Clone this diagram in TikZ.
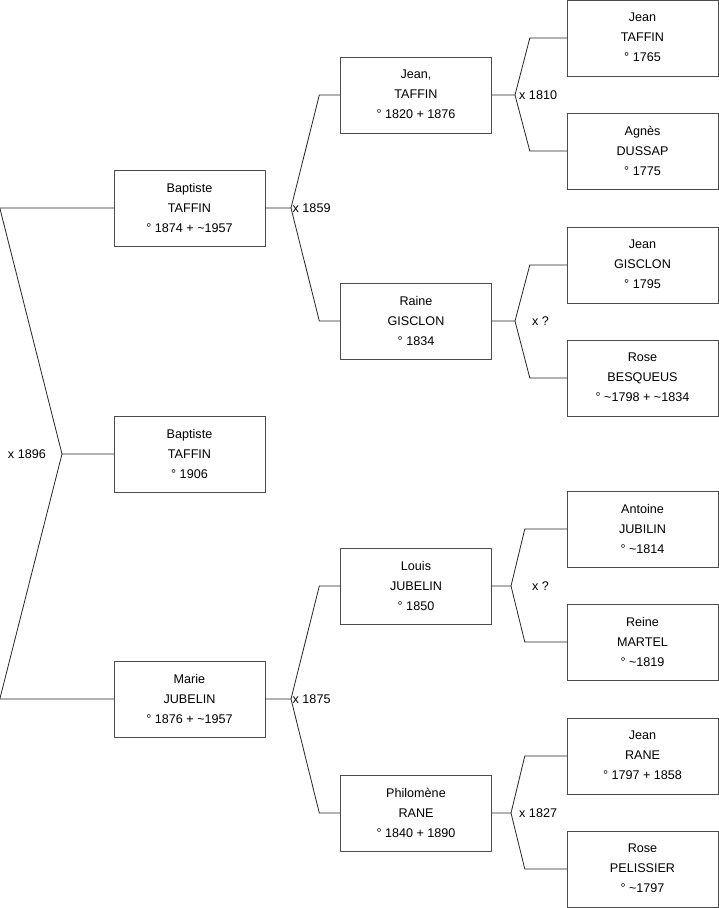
\documentclass[tikz,border=0pt]{standalone}
\usepackage{fontspec}
\setmainfont{Liberation Sans}
\usepackage{tikz}
\usetikzlibrary{positioning}

\begin{document}
\begin{tikzpicture}[x=1pt, y=-1pt, every node/.style={font=\fontsize{12.6}{20}\selectfont}]
\tikzset{pers/.style={draw=black!70, rectangle, minimum width=151pt, minimum height=76pt, align=center, inner sep=0pt, text depth=1pt}}
\tikzset{lnk/.style={draw=black!85, line width=0.8pt}}
\useasboundingbox (0,0) rectangle (719,908);
% child
\node[pers] (c0) at (189.5,454) {Baptiste\\TAFFIN\\° 1906};
% parents
\node[pers] (p1) at (189.5,208) {Baptiste\\TAFFIN\\° 1874 + \textasciitilde1957};
\node[pers] (p2) at (189.5,699) {Marie\\JUBELIN\\° 1876 + \textasciitilde1957};
% grandparents
\node[pers] (g1) at (416,95) {Jean,\\TAFFIN\\° 1820 + 1876};
\node[pers] (g2) at (416,321) {Raine\\GISCLON\\° 1834};
\node[pers] (g3) at (416,586) {Louis\\JUBELIN\\° 1850};
\node[pers] (g4) at (416,813) {Philomène\\RANE\\° 1840 + 1890};
% great-grandparents
\node[pers] (a1) at (642.5,38) {Jean\\TAFFIN\\° 1765};
\node[pers] (a2) at (642.5,151) {Agnès\\DUSSAP\\° 1775};
\node[pers] (a3) at (642.5,265) {Jean\\GISCLON\\° 1795};
\node[pers] (a4) at (642.5,378) {Rose\\BESQUEUS\\° \textasciitilde1798 + \textasciitilde1834};
\node[pers] (a5) at (642.5,529) {Antoine\\JUBILIN\\° \textasciitilde1814};
\node[pers] (a6) at (642.5,642) {Reine\\MARTEL\\° \textasciitilde1819};
\node[pers] (a7) at (642.5,756) {Jean\\RANE\\° 1797 + 1858};
\node[pers] (a8) at (642.5,869) {Rose\\PELISSIER\\° \textasciitilde1797};
% forks
\coordinate (f0) at (62,454);
\coordinate (f1) at (291,208);
\coordinate (f2) at (291,699);
\coordinate (f3) at (515,95);
\coordinate (f4) at (515,321);
\coordinate (f5) at (511,586);
\coordinate (f6) at (511,813);
\draw[lnk] (c0) -- (f0) -- ([xshift=-114pt]p1.west) -- (p1.west);
\draw[lnk] (f0) -- ([xshift=-114pt]p2.west) -- (p2.west);
\draw[lnk] (p1) -- (f1) -- ([xshift=-21pt]g1.west) -- (g1.west);
\draw[lnk] (f1) -- ([xshift=-21pt]g2.west) -- (g2.west);
\draw[lnk] (p2) -- (f2) -- ([xshift=-21pt]g3.west) -- (g3.west);
\draw[lnk] (f2) -- ([xshift=-21pt]g4.west) -- (g4.west);
\draw[lnk] (g1) -- (f3) -- ([xshift=-37pt]a1.west) -- (a1.west);
\draw[lnk] (f3) -- ([xshift=-37pt]a2.west) -- (a2.west);
\draw[lnk] (g2) -- (f4) -- ([xshift=-37pt]a3.west) -- (a3.west);
\draw[lnk] (f4) -- ([xshift=-37pt]a4.west) -- (a4.west);
\draw[lnk] (g3) -- (f5) -- ([xshift=-42pt]a5.west) -- (a5.west);
\draw[lnk] (f5) -- ([xshift=-42pt]a6.west) -- (a6.west);
\draw[lnk] (g4) -- (f6) -- ([xshift=-42pt]a7.west) -- (a7.west);
\draw[lnk] (f6) -- ([xshift=-42pt]a8.west) -- (a8.west);
% marriages
\node[left=16pt of f0, inner sep=0pt] (m0) {x 1896};
\node[right=1.5pt of f1, inner sep=0pt] (m1) {x 1859};
\node[right=1.5pt of f2, inner sep=0pt] (m2) {x 1875};
\node[right=4pt of f3, inner sep=0pt] (m3) {x 1810};
\node[right=17pt of f4, inner sep=0pt] (m4) {x ?};
\node[right=21pt of f5, inner sep=0pt] (m5) {x ?};
\node[right=8pt of f6, inner sep=0pt] (m6) {x 1827};
\end{tikzpicture}
\end{document}
